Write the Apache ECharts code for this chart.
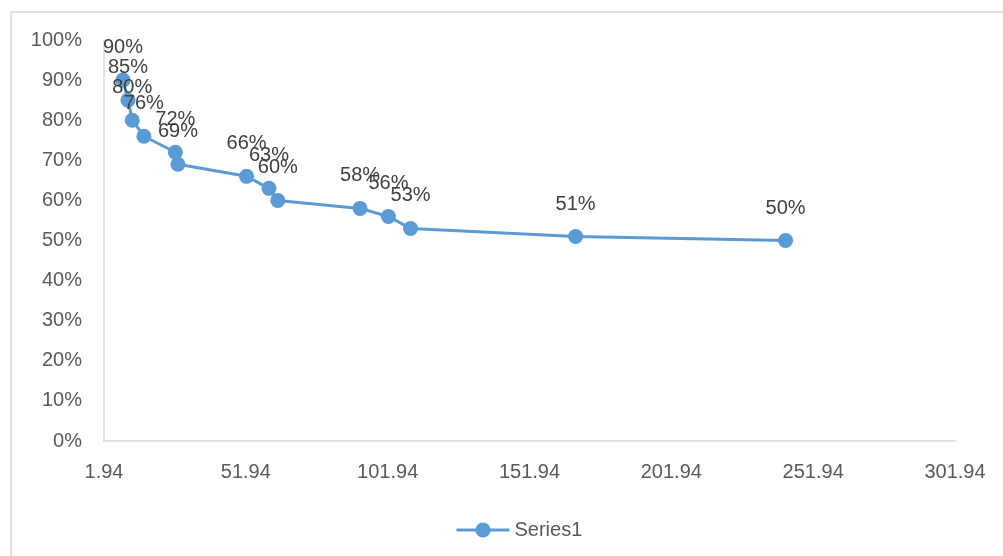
<!DOCTYPE html>
<html>
<head>
<meta charset="utf-8">
<script src="https://cdn.jsdelivr.net/npm/echarts@6/dist/echarts.min.js"></script>
<style>
  html, body { margin: 0; padding: 0; background: #ffffff; }
  #chart { width: 1003px; height: 556px; }
</style>
</head>
<body>
<div id="chart"></div>
<script>
// Series data: x position and share for each point
const xValues = [8.64, 10.4, 11.9, 16.0, 27.1, 28.0, 52.2, 60.1, 63.2, 92.2, 102.2, 110.0, 168.2, 242.2];
const yValues = [0.90, 0.85, 0.80, 0.76, 0.72, 0.69, 0.66, 0.63, 0.60, 0.58, 0.56, 0.53, 0.51, 0.50];
const seriesName = 'Series1';

// Axis tick labels
const xTicks = [1.94, 51.94, 101.94, 151.94, 201.94, 251.94, 301.94];
const yTicks = [0, 0.1, 0.2, 0.3, 0.4, 0.5, 0.6, 0.7, 0.8, 0.9, 1.0];

const FONT = 'Liberation Sans, Arial, sans-serif';
const BLUE = '#5B9BD5';
const AXIS_GRAY = '#d9d9d9';

const pct = v => Math.round(v * 100) + '%';

const points = xValues.map((x, i) => [x, yValues[i]]);

const chart = echarts.init(document.getElementById('chart'), null, { renderer: 'canvas' });

chart.setOption({
  animation: false,
  backgroundColor: '#ffffff',
  textStyle: { fontFamily: FONT },
  graphic: [{
    type: 'rect',
    silent: true,
    shape: { x: 11, y: 12, width: 1010, height: 560 },
    style: { fill: 'none', stroke: AXIS_GRAY, lineWidth: 1.5 }
  }],
  grid: { left: 104, right: 48, top: 40, bottom: 115, containLabel: false },
  xAxis: {
    type: 'value',
    min: xTicks[0],
    max: xTicks[xTicks.length - 1],
    axisLine: { show: true, lineStyle: { color: AXIS_GRAY, width: 1.5 } },
    axisTick: { show: false },
    splitLine: { show: false },
    axisLabel: {
      customValues: xTicks,
      formatter: v => v.toFixed(2),
      color: '#595959',
      fontSize: 20,
      fontFamily: FONT,
      margin: 21
    }
  },
  yAxis: {
    type: 'value',
    min: 0,
    max: 1,
    axisLine: { show: true, lineStyle: { color: AXIS_GRAY, width: 1.5 } },
    axisTick: { show: false },
    splitLine: { show: false },
    axisLabel: {
      customValues: yTicks,
      formatter: pct,
      color: '#595959',
      fontSize: 20,
      fontFamily: FONT,
      margin: 22
    }
  },
  legend: {
    data: [seriesName],
    left: 450,
    top: 515,
    itemWidth: 53,
    itemHeight: 19,
    itemGap: 10,
    lineStyle: { width: 3 },
    textStyle: { color: '#595959', fontSize: 20, fontFamily: FONT }
  },
  series: [{
    name: seriesName,
    type: 'line',
    data: points,
    symbol: 'circle',
    symbolSize: 15,
    showAllSymbol: true,
    lineStyle: { color: BLUE, width: 3 },
    itemStyle: { color: BLUE },
    label: {
      show: true,
      position: 'top',
      distance: 15,
      formatter: p => pct(p.value[1]),
      color: '#404040',
      fontSize: 20,
      fontFamily: FONT
    }
  }]
});
</script>
</body>
</html>
